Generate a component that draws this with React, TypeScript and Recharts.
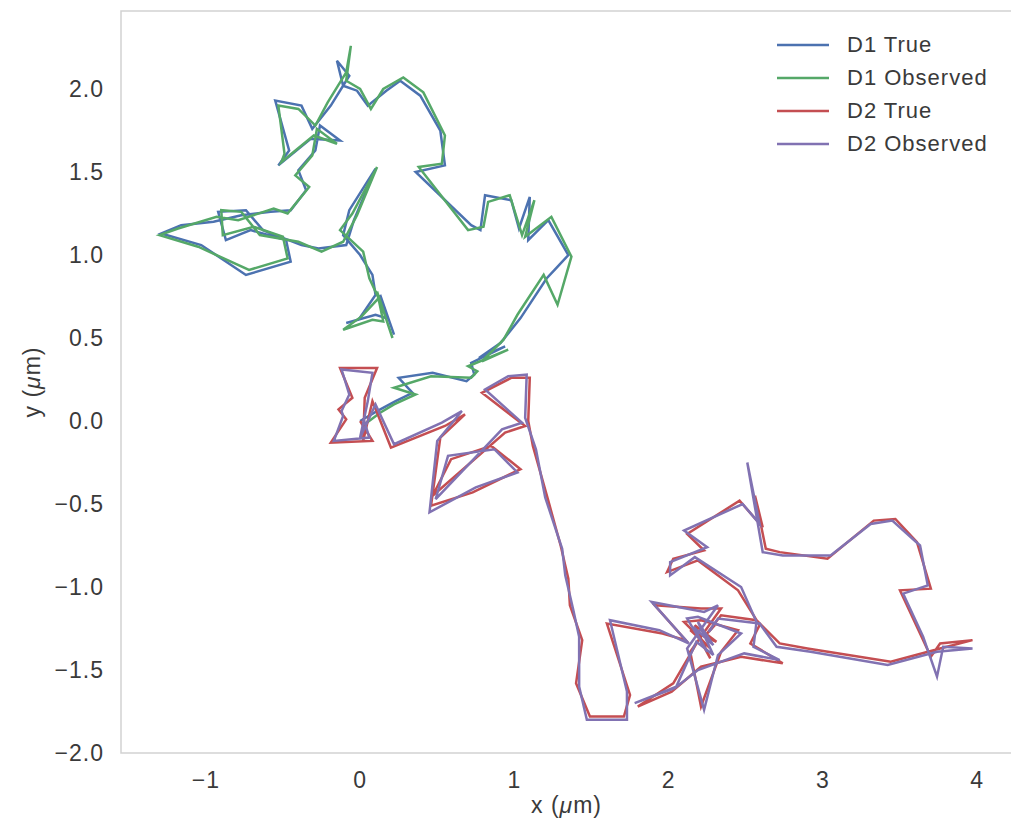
import React from 'react';
import { ScatterChart, Scatter, XAxis, YAxis, ReferenceArea, Legend, Label } from 'recharts';

const d1True: [number, number][] = [
  [0.0, 0.0], [0.11, 0.06], [0.23, 0.12], [0.34, 0.17], [0.25, 0.26], [0.47, 0.29], [0.69, 0.24], [0.74, 0.28],
  [0.72, 0.35], [0.94, 0.45], [0.77, 0.38], [0.91, 0.47], [1.04, 0.62], [1.21, 0.86], [1.27, 0.92], [1.35, 1.0],
  [1.22, 1.21], [1.09, 1.09], [1.1, 1.35], [1.03, 1.16], [0.98, 1.33], [0.81, 1.36], [0.78, 1.15], [0.72, 1.18],
  [0.36, 1.5], [0.55, 1.54], [0.52, 1.75], [0.39, 1.96], [0.26, 2.05], [0.17, 1.99], [0.05, 1.9], [-0.02, 1.99],
  [-0.11, 2.02], [-0.15, 2.17], [-0.07, 2.08], [-0.19, 1.9], [-0.31, 1.76], [-0.38, 1.9], [-0.55, 1.93], [-0.46, 1.63],
  [-0.53, 1.54], [-0.32, 1.7], [-0.13, 1.69], [-0.26, 1.78], [-0.29, 1.63], [-0.4, 1.51], [-0.35, 1.39], [-0.45, 1.27],
  [-0.58, 1.26], [-0.77, 1.24], [-0.95, 1.2], [-1.16, 1.18], [-1.29, 1.13], [-1.03, 1.06], [-0.74, 0.88], [-0.45, 0.96],
  [-0.48, 1.09], [-0.71, 1.15], [-0.87, 1.09], [-0.92, 1.26], [-0.74, 1.27], [-0.63, 1.15], [-0.38, 1.06], [-0.27, 1.04],
  [-0.09, 1.06], [-0.04, 1.21], [0.1, 1.52], [-0.07, 1.27], [-0.11, 1.12], [0.0, 1.0], [0.08, 0.88], [0.1, 0.76],
  [-0.01, 0.61], [-0.09, 0.59], [0.1, 0.64], [0.17, 0.62], [0.13, 0.76], [0.22, 0.52],
];

const d1Observed: [number, number][] = [
  [0.03, -0.02], [0.13, 0.05], [0.22, 0.1], [0.36, 0.16], [0.22, 0.2], [0.46, 0.27], [0.72, 0.26], [0.76, 0.3],
  [0.7, 0.33], [0.96, 0.43], [0.79, 0.36], [0.93, 0.49], [1.02, 0.64], [1.19, 0.88], [1.28, 0.7], [1.37, 0.99],
  [1.24, 1.23], [1.07, 1.11], [1.13, 1.33], [1.05, 1.12], [0.97, 1.36], [0.83, 1.32], [0.8, 1.17], [0.7, 1.15],
  [0.38, 1.53], [0.53, 1.55], [0.55, 1.72], [0.41, 1.98], [0.28, 2.07], [0.15, 2.0], [0.07, 1.88], [0.0, 2.0],
  [-0.09, 2.05], [-0.06, 2.26], [-0.09, 2.1], [-0.21, 1.92], [-0.29, 1.78], [-0.4, 1.88], [-0.53, 1.9], [-0.49, 1.61],
  [-0.51, 1.56], [-0.3, 1.72], [-0.15, 1.67], [-0.28, 1.76], [-0.31, 1.6], [-0.42, 1.48], [-0.33, 1.41], [-0.47, 1.25],
  [-0.56, 1.28], [-0.79, 1.21], [-0.93, 1.23], [-1.18, 1.16], [-1.3, 1.12], [-1.05, 1.05], [-0.72, 0.91], [-0.47, 0.98],
  [-0.5, 1.11], [-0.69, 1.17], [-0.89, 1.12], [-0.9, 1.27], [-0.77, 1.26], [-0.65, 1.12], [-0.4, 1.08], [-0.25, 1.02],
  [-0.11, 1.08], [-0.02, 1.24], [0.11, 1.53], [-0.05, 1.25], [-0.13, 1.15], [0.02, 1.02], [0.06, 0.86], [0.12, 0.74],
  [0.01, 0.63], [-0.11, 0.55], [0.08, 0.61], [0.15, 0.6], [0.11, 0.78], [0.21, 0.5],
];

const d2True: [number, number][] = [
  [0.0, 0.0], [0.08, -0.12], [-0.19, -0.13], [-0.09, 0.01], [-0.14, 0.07], [-0.05, 0.14], [-0.13, 0.32], [0.11, 0.32],
  [0.03, 0.14], [0.02, -0.12], [0.08, 0.12], [0.2, -0.16], [0.55, -0.03], [0.68, 0.04], [0.52, -0.1], [0.46, -0.51],
  [0.73, -0.43], [1.04, -0.29], [0.85, -0.15], [0.59, -0.23], [0.47, -0.45], [0.94, -0.07], [1.07, -0.03], [0.79, 0.17],
  [0.98, 0.26], [1.1, 0.26], [1.09, 0.0], [1.12, -0.15], [1.22, -0.48], [1.3, -0.75], [1.35, -0.95], [1.36, -1.11],
  [1.44, -1.32], [1.4, -1.58], [1.49, -1.78], [1.71, -1.78], [1.75, -1.65], [1.6, -1.22], [1.96, -1.28], [2.11, -1.32],
  [1.91, -1.11], [2.21, -1.13], [2.34, -1.13], [2.14, -1.39], [2.21, -1.72], [2.34, -1.39], [2.45, -1.26], [2.21, -1.2],
  [2.1, -1.21], [2.27, -1.37], [2.14, -1.26], [2.31, -1.33], [2.17, -1.23], [2.27, -1.43], [2.2, -1.31],
  [2.03, -1.58], [1.8, -1.72], [2.02, -1.63], [2.21, -1.48], [2.47, -1.42], [2.74, -1.46], [2.53, -1.34], [2.59, -1.23],
  [2.45, -1.02], [2.19, -0.84], [1.99, -0.91], [2.03, -0.83], [2.23, -0.78], [2.12, -0.68], [2.46, -0.48], [2.61, -0.64],
  [2.56, -0.45], [2.63, -0.77], [2.72, -0.79], [3.03, -0.83], [3.33, -0.6], [3.47, -0.59], [3.61, -0.73], [3.7, -1.01],
  [3.5, -1.02], [3.63, -1.28], [3.7, -1.42], [3.76, -1.34], [3.97, -1.32], [3.76, -1.37], [3.44, -1.45], [2.9, -1.37],
  [2.72, -1.34], [2.57, -1.2], [2.34, -1.17], [2.24, -1.29], [2.3, -1.23],
];

const d2Observed: [number, number][] = [
  [0.02, 0.02], [0.06, -0.1], [-0.17, -0.12], [-0.11, 0.03], [-0.12, 0.06], [-0.07, 0.16], [-0.12, 0.31], [0.08, 0.29],
  [0.05, 0.12], [0.0, -0.1], [0.1, 0.1], [0.22, -0.14], [0.53, -0.01], [0.66, 0.06], [0.5, -0.12], [0.45, -0.55],
  [0.75, -0.4], [1.02, -0.31], [0.87, -0.17], [0.57, -0.21], [0.49, -0.47], [0.92, -0.05], [1.05, -0.01], [0.81, 0.19],
  [0.96, 0.27], [1.08, 0.28], [1.07, 0.02], [1.14, -0.17], [1.2, -0.46], [1.31, -0.77], [1.33, -0.93], [1.38, -1.13],
  [1.42, -1.3], [1.42, -1.6], [1.47, -1.8], [1.73, -1.8], [1.73, -1.63], [1.62, -1.2], [1.94, -1.26], [2.13, -1.34],
  [1.89, -1.09], [2.23, -1.15], [2.32, -1.11], [2.12, -1.37], [2.23, -1.74], [2.32, -1.41], [2.47, -1.28], [2.19, -1.18],
  [2.12, -1.19], [2.25, -1.39], [2.16, -1.24], [2.29, -1.35], [2.19, -1.21], [2.29, -1.41], [2.18, -1.33],
  [2.05, -1.6], [1.78, -1.7], [2.04, -1.61], [2.19, -1.5], [2.49, -1.4], [2.72, -1.44], [2.55, -1.36], [2.57, -1.21],
  [2.47, -1.0], [2.17, -0.82], [2.01, -0.93], [2.01, -0.85], [2.25, -0.76], [2.1, -0.66], [2.48, -0.5], [2.59, -0.62],
  [2.51, -0.25], [2.61, -0.79], [2.74, -0.81], [3.05, -0.81], [3.31, -0.62], [3.45, -0.6], [3.63, -0.75], [3.68, -0.99],
  [3.52, -1.04], [3.65, -1.3], [3.74, -1.54], [3.78, -1.36], [3.97, -1.37], [3.74, -1.39], [3.42, -1.47], [2.92, -1.39],
  [2.7, -1.36], [2.59, -1.22], [2.32, -1.19], [2.26, -1.27], [2.28, -1.25],
];

const seriesNames = ['D1 True', 'D1 Observed', 'D2 True', 'D2 Observed'];
const seriesColors = ['#4C72B0', '#55A868', '#C44E52', '#8172B2'];
const seriesData = [d1True, d1Observed, d2True, d2Observed];
const xTicks = [-1, 0, 1, 2, 3, 4];
const yTicks = [-2, -1.5, -1, -0.5, 0, 0.5, 1, 1.5, 2];
const xDomain: [number, number] = [-1.55, 4.265];
const yDomain: [number, number] = [-2.0, 2.47];

const FONT = '"Liberation Sans", Arial, Helvetica, sans-serif';
const TEXT = '#3a3a3a';

const toPts = (a: [number, number][]) => a.map(([x, y]) => ({ x, y }));
const minus = (s: string) => s.replace('-', '\u2212');

const NoDot = () => <g />;

const LegendBox = () => (
  <div style={{ fontFamily: FONT, fontSize: 22, letterSpacing: 1, color: TEXT }}>
    {seriesNames.map((n, i) => (
      <div key={n} style={{ display: 'flex', alignItems: 'center', height: 33 }}>
        <svg width={52} height={4} style={{ marginLeft: 7 }}>
          <line x1={0} y1={2} x2={52} y2={2} stroke={seriesColors[i]} strokeWidth={2.5} />
        </svg>
        <span style={{ marginLeft: 18, whiteSpace: 'nowrap' }}>{n}</span>
      </div>
    ))}
  </div>
);

const XLabel = (props: any) => {
  const vb = props.viewBox || {};
  return (
    <text x={vb.x + vb.width / 2 - 3} y={vb.y + 60} textAnchor="middle" fontFamily={FONT} fontSize={23} letterSpacing={1} fill={TEXT}>
      <tspan>x (</tspan>
      <tspan fontStyle="italic">μ</tspan>
      <tspan>m)</tspan>
    </text>
  );
};

const YLabel = (props: any) => {
  const vb = props.viewBox || {};
  const cx = 32;
  const cy = vb.y + vb.height / 2;
  return (
    <text x={cx} y={cy} textAnchor="middle" dominantBaseline="central" transform={`rotate(-90, ${cx}, ${cy})`} fontFamily={FONT} fontSize={23} letterSpacing={1} fill={TEXT}>
      <tspan>y (</tspan>
      <tspan fontStyle="italic">μ</tspan>
      <tspan>m)</tspan>
    </text>
  );
};

export default function App() {
  return (
    <div style={{ position: 'absolute', left: 0, top: 0, width: 1011, height: 830, overflow: 'hidden', background: '#fff' }}>
      <ScatterChart width={1030} height={830} margin={{ top: 11, right: 12, bottom: 0, left: 0 }}>
        <XAxis
          type="number"
          dataKey="x"
          domain={xDomain}
          ticks={xTicks}
          allowDataOverflow
          axisLine={false}
          tickLine={false}
          tickSize={0}
          tickMargin={19}
          height={77}
          tick={{ fontFamily: FONT, fontSize: 23, fill: TEXT, letterSpacing: 1 }}
          tickFormatter={(v: number) => minus(String(v))}
        >
          <Label content={XLabel} />
        </XAxis>
        <YAxis
          type="number"
          dataKey="y"
          domain={yDomain}
          ticks={yTicks}
          allowDataOverflow
          axisLine={false}
          tickLine={false}
          tickSize={0}
          tickMargin={17}
          width={121}
          tick={{ fontFamily: FONT, fontSize: 23, fill: TEXT, letterSpacing: 1 }}
          tickFormatter={(v: number) => minus(v.toFixed(1))}
        >
          <Label content={YLabel} />
        </YAxis>
        <ReferenceArea x1={xDomain[0]} x2={xDomain[1]} y1={yDomain[0]} y2={yDomain[1]} fill="none" stroke="#d2d2d2" strokeWidth={1.5} ifOverflow="visible" />
        {seriesData.map((d, i) => (
          <Scatter
            key={seriesNames[i]}
            name={seriesNames[i]}
            data={toPts(d)}
            fill={seriesColors[i]}
            line={{ stroke: seriesColors[i], strokeWidth: 2.5 }}
            lineType="joint"
            shape={NoDot}
            isAnimationActive={false}
          />
        ))}
        <Legend
          layout="vertical"
          align="center"
          verticalAlign="middle"
          content={LegendBox}
          wrapperStyle={{ position: 'absolute', left: 770, top: 28, width: 240 }}
        />
      </ScatterChart>
    </div>
  );
}
